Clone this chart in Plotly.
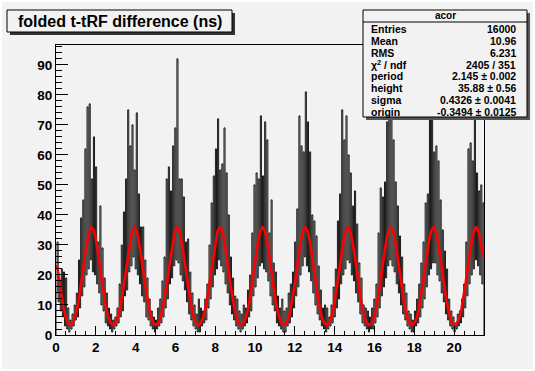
import numpy as np
import plotly.graph_objects as go

# ---------------- data ----------------
x_min, x_max = 0.0, 21.5
y_max = 96.6

# histogram "acor": counts of the tall (spike) bins
spike_counts = [
    31, 18, 22, 21, 19, 9, 5, 7, 10, 14,
    25, 39, 45, 62, 76, 77, 52, 66, 56, 31,
    43, 29, 19, 14, 9, 7, 5, 6, 9, 17,
    30, 41, 52, 75, 63, 70, 55, 74, 47, 36,
    36, 25, 19, 12, 8, 6, 5, 9, 12, 18,
    26, 52, 56, 48, 63, 69, 92, 52, 52, 46,
    31, 32, 21, 14, 10, 7, 12, 9, 8, 12,
    17, 30, 44, 53, 62, 72, 55, 57, 69, 54,
    40, 26, 19, 13, 12, 8, 7, 10, 9, 15,
    20, 34, 50, 54, 52, 73, 53, 71, 65, 34,
    45, 24, 21, 13, 9, 12, 8, 9, 14, 17,
    21, 31, 42, 73, 63, 61, 81, 71, 61, 40,
    38, 33, 23, 15, 9, 10, 9, 6, 10, 16,
    22, 38, 47, 75, 65, 73, 60, 54, 43, 48,
    37, 24, 19, 10, 9, 8, 6, 9, 12, 17,
    34, 49, 46, 51, 71, 84, 88, 65, 51, 43,
    33, 26, 17, 14, 8, 7, 5, 8, 12, 17,
    24, 31, 44, 47, 82, 86, 61, 63, 58, 45,
    35, 28, 22, 12, 8, 6, 4, 7, 8, 12,
    17, 31, 62, 64, 58, 85, 54, 48, 50, 44,
]
# counts of the low bins lying between the spikes
valley_counts = [
    14, 11, 8, 6, 3, 2, 1, 2, 3, 5,
    6, 9, 13, 16, 20, 22, 25, 21, 20, 17,
    14, 10, 8, 4, 3, 2, 1, 2, 3, 4,
    6, 8, 13, 15, 21, 23, 26, 22, 20, 17,
    13, 11, 6, 5, 3, 2, 1, 2, 3, 4,
    6, 9, 12, 17, 19, 23, 25, 24, 20, 18,
    15, 11, 7, 5, 3, 2, 1, 1, 3, 4,
    5, 9, 12, 16, 20, 22, 25, 23, 21, 17,
    14, 10, 7, 5, 3, 2, 1, 2, 3, 4,
    6, 8, 13, 16, 19, 23, 24, 22, 21, 18,
    13, 10, 8, 4, 3, 2, 1, 1, 3, 4,
    6, 9, 13, 16, 20, 23, 26, 23, 21, 18,
    14, 10, 7, 5, 3, 2, 1, 2, 3, 4,
    6, 9, 12, 17, 20, 22, 25, 24, 20, 18,
    14, 11, 7, 4, 3, 2, 1, 2, 2, 4,
    6, 9, 13, 16, 19, 23, 25, 23, 21, 17,
    14, 10, 7, 5, 3, 2, 1, 1, 3, 4,
    6, 9, 12, 16, 20, 22, 24, 24, 20, 18,
    14, 11, 7, 5, 3, 2, 1, 2, 3, 4,
    6, 9, 13, 17, 20, 22, 25, 23, 20, 17,
]

# fit result shown in the stats box
fit_period = 2.145
fit_height = 35.88
fit_sigma = 0.4326
fit_origin = -0.3494

stat_labels = ["Entries", "Mean", "RMS", "χ<sup>2</sup> / ndf", "period", "height", "sigma", "origin"]
stat_values = ["16000", "10.96", "6.231", "2405 / 351", "2.145 ± 0.002", "35.88 ± 0.56",
               "0.4326 ± 0.0041", "-0.3494 ± 0.0125"]
hist_name = "acor"
title_text = "folded t-tRF difference (ns)"

# ---------------- build ----------------
counts = []
for lo, hi in zip(valley_counts, spike_counts):
    counts += [lo, hi]
nb = len(counts)
bw = (x_max - x_min) / nb
edges = x_min + bw * np.arange(nb + 1)
hx = [edges[0]]
hy = [0]
for i, c in enumerate(counts):
    hx += [edges[i], edges[i + 1]]
    hy += [c, c]
hx.append(edges[-1]); hy.append(0)

centers = x_min + bw * (np.arange(nb // 2) * 2 + 1.0)
fx = centers
fy = np.zeros_like(fx)
for k in range(-2, 14):
    fy += fit_height * np.exp(-0.5 * ((fx - fit_origin - k * fit_period) / fit_sigma) ** 2)

FONT = "Liberation Sans, Arial, Helvetica, sans-serif"

fig = go.Figure()
fig.add_trace(go.Scatter(x=hx, y=hy, mode="lines", line=dict(color="black", width=0.9),
                         hoverinfo="skip"))
fig.add_trace(go.Scatter(x=fx, y=fy, mode="lines", line=dict(color="#ff0000", width=2.6),
                         hoverinfo="skip"))

L, R, T, B = 56, 51, 45, 36
W, H = 535, 371
PW, PH = W - L - R, H - T - B


def px(p):
    return (p - L) / PW


def py(p):
    return (H - B - p) / PH


shapes = []
# canvas
shapes.append(dict(type="rect", xref="paper", yref="paper", x0=px(2), x1=px(533), y0=py(369), y1=py(2),
                   fillcolor="#f2f2f2", line=dict(width=0), layer="below"))
# title box with shadow
shapes.append(dict(type="rect", xref="paper", yref="paper", x0=px(10), x1=px(235), y0=py(35), y1=py(13),
                   fillcolor="#333333", line=dict(width=0), layer="above"))
shapes.append(dict(type="rect", xref="paper", yref="paper", x0=px(7), x1=px(232), y0=py(32), y1=py(10),
                   fillcolor="#f2f2f2", line=dict(color="black", width=1), layer="above"))
# stats box with shadow
shapes.append(dict(type="rect", xref="paper", yref="paper", x0=px(366), x1=px(530), y0=py(120), y1=py(13),
                   fillcolor="#555555", line=dict(width=0), layer="above"))
shapes.append(dict(type="rect", xref="paper", yref="paper", x0=px(363), x1=px(527), y0=py(117), y1=py(10),
                   fillcolor="#f2f2f2", line=dict(color="black", width=1), layer="above"))
shapes.append(dict(type="line", xref="paper", yref="paper", x0=px(363), x1=px(527), y0=py(22), y1=py(22),
                   line=dict(color="black", width=1), layer="above"))

ann = []
ann.append(dict(xref="paper", yref="paper", x=px(119.5), y=py(21.5), text=title_text, showarrow=False,
                xanchor="center", yanchor="middle",
                font=dict(family=FONT, size=16, color="black", weight="bold")))
ann.append(dict(xref="paper", yref="paper", x=px(445), y=py(16), text=hist_name, showarrow=False,
                xanchor="center", yanchor="middle",
                font=dict(family=FONT, size=10, color="black", weight="bold")))
row_y = 29.3
for lab, val in zip(stat_labels, stat_values):
    ann.append(dict(xref="paper", yref="paper", x=px(369), y=py(row_y), text=lab, showarrow=False,
                    xanchor="left", yanchor="middle",
                    font=dict(family=FONT, size=10.5, color="black", weight="bold")))
    ann.append(dict(xref="paper", yref="paper", x=px(518), y=py(row_y), text=val, showarrow=False,
                    xanchor="right", yanchor="middle",
                    font=dict(family=FONT, size=10.5, color="black", weight="bold")))
    row_y += 11.77

tickfont = dict(family=FONT, size=13.5, color="black", weight="bold")
fig.update_layout(
    width=W, height=H, autosize=False,
    margin=dict(l=L, r=R, t=T, b=B, pad=0),
    paper_bgcolor="white", plot_bgcolor="rgba(0,0,0,0)",
    showlegend=False,
    shapes=shapes, annotations=ann,
    xaxis=dict(range=[x_min, x_max], tick0=0, dtick=2, ticks="inside", ticklen=9, tickwidth=1,
               tickcolor="black", showline=True, linecolor="black", linewidth=1, mirror=True,
               showgrid=False, zeroline=False, tickfont=tickfont,
               minor=dict(dtick=0.5, ticks="inside", ticklen=4.5, tickcolor="black", showgrid=False)),
    yaxis=dict(range=[0, y_max], tick0=0, dtick=10, ticks="inside", ticklen=12, tickwidth=1,
               tickcolor="black", showline=True, linecolor="black", linewidth=1, mirror=True,
               showgrid=False, zeroline=False, tickfont=tickfont,
               minor=dict(dtick=2, ticks="inside", ticklen=6, tickcolor="black", showgrid=False)),
)

fig.write_html("out.html", config={"displayModeBar": False},
               post_script="document.body.style.margin='0';document.body.style.overflow='hidden';")
